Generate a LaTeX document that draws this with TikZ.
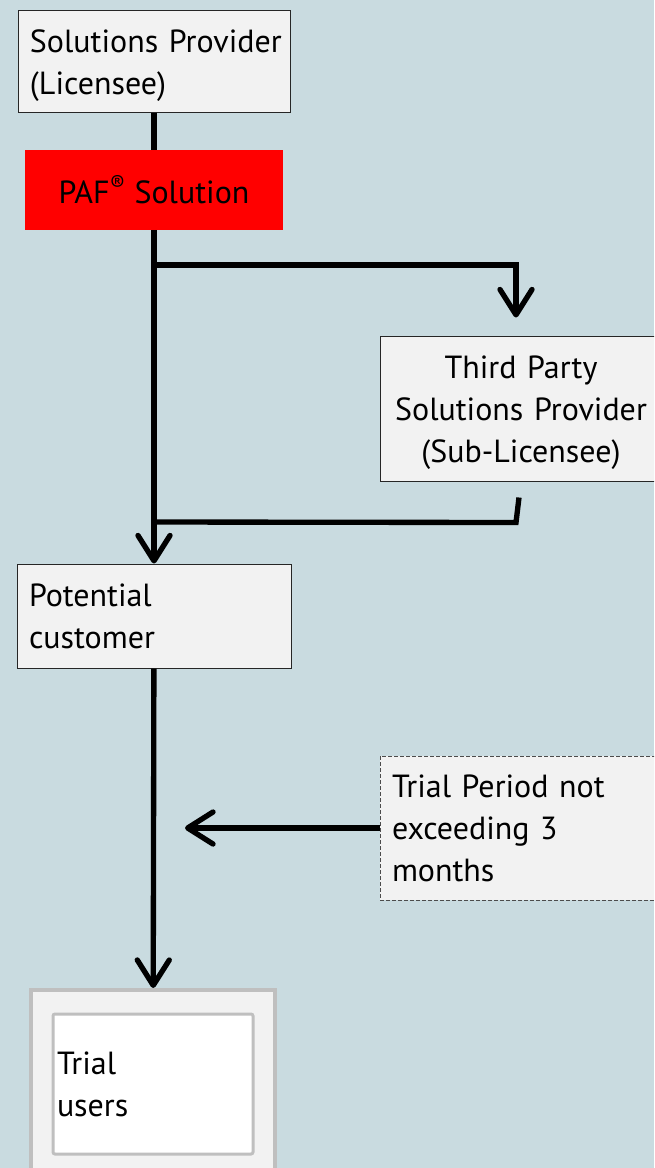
\documentclass[tikz,border=0pt]{standalone}
\usepackage{fontspec}
\setmainfont{PT Sans}
\usetikzlibrary{arrows.meta}
\definecolor{bgblue}{RGB}{201,219,224}
\definecolor{boxgray}{RGB}{242,242,242}
\definecolor{pafred}{RGB}{255,0,0}
\definecolor{framegray}{RGB}{191,191,191}
\newcommand{\toppad}{\rule{0pt}{24pt}}

\begin{document}
\begin{tikzpicture}[x=0.75pt,y=0.75pt,yscale=-1,xscale=1,
  every node/.style={font=\fontsize{24}{31.5}\selectfont},
  box/.style={draw=black!85, fill=boxgray, line width=0.75pt, inner xsep=9pt, inner ysep=0pt, align=left},
  link/.style={line width=4pt},
  flow/.style={line width=4pt, -{Straight Barb[length=19pt,width=24pt,round]}}]

%Background
\clip (0,0) rectangle (654,1168);
\fill [bgblue] (0,0) rectangle (654,1168);

%Shape: Rectangle [licensee]
\node [box, text width=186pt, minimum height=76.5pt] (licensee) at (154,61) {\toppad\mbox{Solutions Provider}\\(Licensee)};
%Shape: Rectangle [paf]
\node [fill=pafred, minimum width=193.5pt, minimum height=60pt, inner sep=0pt] (paf) at (154,190) {PAF\textsuperscript{®} Solution};
%Shape: Rectangle [sublicensee]
\node [box, align=center, text width=193.5pt, minimum height=108.75pt] (sublicensee) at (521,408.5) {\toppad Third Party\\Solutions Provider\\(Sub-Licensee)};
%Shape: Rectangle [customer]
\node [box, text width=187.5pt, minimum height=78pt] (customer) at (154,616) {Potential\\customer};
%Shape: Rectangle [period]
\node [box, draw=black!70, dash pattern=on 3pt off 1.5pt, text width=193.5pt, minimum height=108pt] (period) at (521,828) {Trial Period not\\exceeding 3\\months};
%Shape: Rectangle [trialframe]
\node [draw=framegray, fill=boxgray, line width=3pt, minimum width=183pt, minimum height=157.5pt] (trialframe) at (153,1095) {};
%Shape: Rectangle [trialusers]
\node [draw=framegray, fill=white, line width=2.25pt, rounded corners=1.5pt, inner xsep=3pt, text width=144pt, minimum height=105pt, align=left] (trialusers) at (153,1084) {Trial\\users};

%Straight Lines
\coordinate (split) at (154,265);
\coordinate (merge) at (154,522);
\coordinate (limit) at (185,828);
\draw [link] (licensee) -- (paf);
\draw [flow] (paf) -- (customer);
\draw [flow] (split) -| ([xshift=-3.75pt,yshift=-13.5pt]sublicensee.north);
\draw [link] ([xshift=-1.5pt,yshift=12pt]sublicensee.south) -- ([xshift=-3.75pt,yshift=30.75pt]sublicensee.south) -- (merge);
\draw [flow] (customer) -- (trialframe);
\draw [flow] (period) -- (limit);

\end{tikzpicture}
\end{document}
